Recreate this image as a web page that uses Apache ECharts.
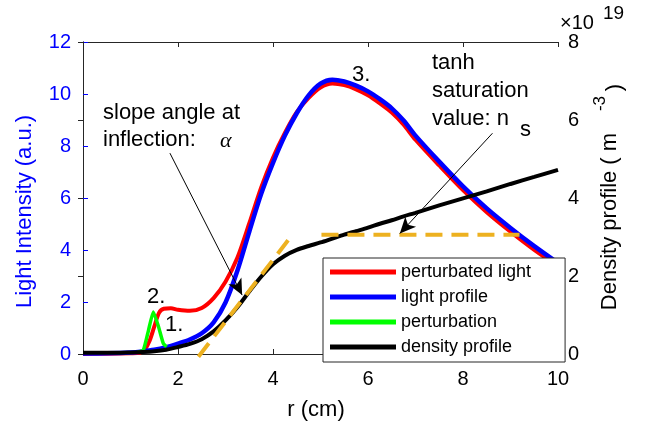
<!DOCTYPE html>
<html><head><meta charset="utf-8">
<script src="https://cdn.jsdelivr.net/npm/echarts@6/dist/echarts.min.js"></script>
<style>html,body{margin:0;padding:0;background:#fff}#c{width:645px;height:422px}</style>
</head><body><div id="c"></div>
<script>
// ---- data ----
const xTicks = [0, 2, 4, 6, 8, 10];
const leftTicks = [0, 2, 4, 6, 8, 10, 12];
const rightTicks = [0, 2, 4, 6, 8];

const rGrid = [0,0.5,1,1.25,1.5,1.75,2,2.25,2.5,2.75,3,3.25,3.5,3.75,4,4.25,4.5,4.75,5,5.25,5.5,5.75,6,6.25,6.5,6.75,7,7.5,8,8.5,9,9.5,10];
const lightProfile = [0.02,0.03,0.06,0.1,0.16,0.26,0.4,0.56,0.8,1.22,1.98,3.2,4.7,6.15,7.35,8.4,9.26,9.95,10.4,10.55,10.48,10.32,10.1,9.8,9.45,8.98,8.4,7.4,6.45,5.6,4.85,4.15,3.5];
const densityProfile = [0.03,0.03,0.04,0.05,0.07,0.11,0.18,0.26,0.38,0.58,0.86,1.2,1.6,1.98,2.3,2.52,2.67,2.77,2.86,2.96,3.06,3.15,3.24,3.34,3.43,3.53,3.62,3.81,3.99,4.17,4.36,4.54,4.72];

const rRed = [0,0.5,1,1.2,1.3,1.4,1.5,1.6,1.7,1.85,2,2.25,2.5,2.75,3,3.25,3.5,3.75,4,4.25,4.5,4.75,5,5.25,5.5,5.75,6,6.25,6.5,6.75,7,7.5,8,8.5,9,9.5,10];
const perturbedLight = [0,0.01,0.03,0.05,0.17,0.5,1.05,1.58,1.74,1.76,1.7,1.66,1.77,2.15,2.78,3.7,5.02,6.4,7.55,8.5,9.3,9.85,10.25,10.4,10.34,10.18,9.95,9.64,9.29,8.82,8.24,7.25,6.3,5.45,4.7,4.0,3.37];

const rPert = [1.15,1.27,1.38,1.48,1.59,1.69,1.76];
const perturbation = [0.07,0.15,0.92,1.62,1.05,0.41,0.28];

const tangentR = [2.43, 4.32];
const tangentN = [-0.07, 2.92];
const saturationR = [5.02, 9.19];
const saturationN = [3.06, 3.06];

const legendNames = ['perturbated light','light profile','perturbation','density profile'];

// ---- chart ----
const font = "'Liberation Sans', Arial, Helvetica, sans-serif";
const zip = (xs, ys) => xs.map((x, i) => [x, ys[i]]);
const chart = echarts.init(document.getElementById('c'), null, {renderer: 'canvas'});

const T = (text, x, y, o = {}) => ({
  type: 'text', x, y, rotation: o.rot || 0, silent: true, z: 100,
  style: {
    text, fill: o.color || '#000', fontSize: o.size || 22,
    fontFamily: o.family || font, fontStyle: o.style || 'normal',
    align: o.align || 'left', verticalAlign: 'middle'
  }
});

const xAxisBase = (pos, showLabel) => ({
  type: 'value', min: 0, max: 10, interval: 2, position: pos,
  axisLine: {show: true, onZero: false, lineStyle: {color: '#262626', width: 1}},
  axisTick: {show: true, inside: true, length: 5, lineStyle: {color: '#262626'}},
  axisLabel: {show: showLabel, color: '#000', fontSize: 20, fontFamily: font, margin: 15},
  splitLine: {show: false}
});

const option = {
  animation: false,
  grid: {left: 83, right: 87, top: 42, bottom: 68},
  legend: {
    data: legendNames, orient: 'vertical', left: 323, top: 258,
    padding: [5, 34, 6, 7], itemGap: 7, itemWidth: 66, itemHeight: 5, icon: 'rect',
    backgroundColor: '#fff', borderColor: '#262626', borderWidth: 1, borderRadius: 0,
    textStyle: {fontSize: 18, fontFamily: font, color: '#000'}, selectedMode: false
  },
  xAxis: [xAxisBase('bottom', true), xAxisBase('top', false)],
  yAxis: [
    {
      type: 'value', min: leftTicks[0], max: leftTicks[leftTicks.length - 1], interval: 2, position: 'left',
      axisLine: {show: true, lineStyle: {color: '#0000ff', width: 1}},
      axisTick: {show: true, inside: true, length: 5, lineStyle: {color: '#0000ff'}},
      axisLabel: {color: '#0000ff', fontSize: 20, fontFamily: font, margin: 12},
      splitLine: {show: false}
    },
    {
      type: 'value', min: rightTicks[0], max: rightTicks[rightTicks.length - 1], interval: 2, position: 'right',
      axisLine: {show: true, lineStyle: {color: '#262626', width: 1}},
      axisTick: {show: true, inside: true, length: 5, lineStyle: {color: '#262626'}},
      axisLabel: {color: '#000', fontSize: 20, fontFamily: font, margin: 10},
      splitLine: {show: false}
    }
  ],
  series: [
    {name: 'perturbated light', type: 'line', xAxisIndex: 0, yAxisIndex: 0, data: zip(rRed, perturbedLight),
     smooth: 0.3, symbol: 'none', lineStyle: {color: '#ff0000', width: 4}, itemStyle: {color: '#ff0000'}},
    {name: 'light profile', type: 'line', xAxisIndex: 0, yAxisIndex: 0, data: zip(rGrid, lightProfile),
     smooth: 0.3, symbol: 'none', lineStyle: {color: '#0000ff', width: 4.5}, itemStyle: {color: '#0000ff'}},
    {name: 'perturbation', type: 'line', xAxisIndex: 0, yAxisIndex: 0, data: zip(rPert, perturbation),
     smooth: 0.15, symbol: 'none', lineStyle: {color: '#00ff00', width: 3.5}, itemStyle: {color: '#00ff00'}},
    {name: 'density profile', type: 'line', xAxisIndex: 0, yAxisIndex: 1, data: zip(rGrid, densityProfile),
     smooth: 0.3, symbol: 'none', lineStyle: {color: '#000', width: 4}, itemStyle: {color: '#000'}},
    {name: 'tangent', type: 'line', xAxisIndex: 0, yAxisIndex: 1, data: zip(tangentR, tangentN), clip: false,
     symbol: 'none', lineStyle: {color: '#EDB120', width: 4, type: [17, 9]}, itemStyle: {color: '#EDB120'},
     markLine: {
       silent: true, symbol: ['none', 'arrow'], symbolSize: [11, 16],
       label: {show: false}, emphasis: {disabled: true},
       lineStyle: {color: '#000', width: 1, type: 'solid'}, itemStyle: {color: '#000'},
       data: [
         [{coord: [1.83, 5.15]}, {coord: [3.35, 1.51]}],
         [{coord: [8.62, 5.66]}, {coord: [6.67, 3.09]}]
       ]
     }},
    {name: 'saturation', type: 'line', xAxisIndex: 0, yAxisIndex: 1, data: zip(saturationR, saturationN),
     symbol: 'none', lineStyle: {color: '#EDB120', width: 4, type: [17, 9]}, itemStyle: {color: '#EDB120'}}
  ],
  graphic: {elements: [
    T('slope angle at', 103, 113),
    T('inflection:', 103, 140),
    T('α', 220, 141, {family: "'Liberation Serif', 'DejaVu Serif', serif", style: 'italic'}),
    T('3.', 352, 75),
    T('tanh', 432, 63),
    T('saturation', 432, 91),
    T('value: n', 432, 119),
    T('s', 520, 130),
    T('2.', 147, 297),
    T('1.', 165, 325),
    T('×10', 560, 23, {size: 20}),
    T('19', 603, 14, {size: 19}),
    T('Light Intensity (a.u.)', 25, 211.5, {rot: Math.PI / 2, align: 'center', color: '#0000ff'}),
    T('Density profile ( m', 609.5, 221.5, {rot: Math.PI / 2, align: 'center'}),
    T('-3', 600, 103.5, {rot: Math.PI / 2, align: 'center', size: 17}),
    T(')', 615, 87.5, {rot: Math.PI / 2, align: 'center'}),
    T('r (cm)', 316, 410, {align: 'center'})
  ]}
};
chart.setOption(option);
</script></body></html>
